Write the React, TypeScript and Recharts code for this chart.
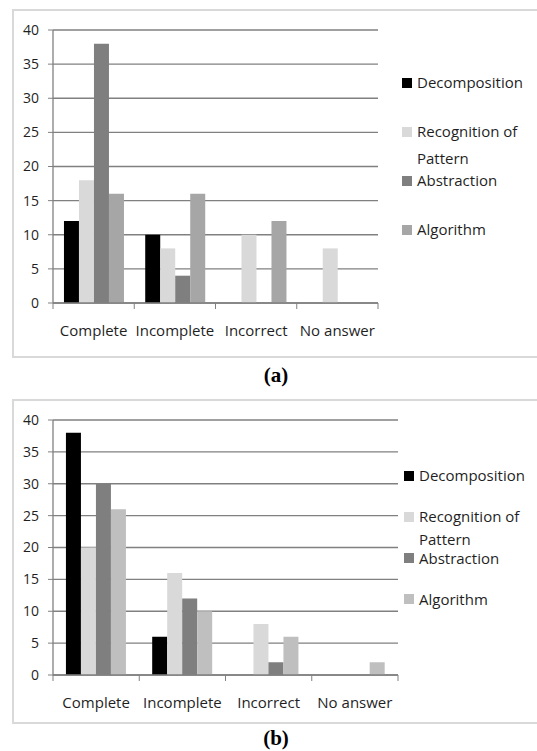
import React from "react";
import { BarChart, Bar, XAxis, YAxis, CartesianGrid, Legend } from "recharts";

const categories = ["Complete", "Incomplete", "Incorrect", "No answer"];
const seriesNames = ["Decomposition", "Recognition of Pattern", "Abstraction", "Algorithm"];
const yTicks = [0, 5, 10, 15, 20, 25, 30, 35, 40];

// Chart (a)
const aDecomposition = [12, 10, 0, 0];
const aRecognition = [18, 8, 10, 8];
const aAbstraction = [38, 4, 0, 0];
const aAlgorithm = [16, 16, 12, 0];

// Chart (b)
const bDecomposition = [38, 6, 0, 0];
const bRecognition = [20, 16, 8, 0];
const bAbstraction = [30, 12, 2, 0];
const bAlgorithm = [26, 10, 6, 2];

const colorsA = ["#000000", "#d9d9d9", "#7f7f7f", "#a6a6a6"];
const colorsB = ["#000000", "#d9d9d9", "#7f7f7f", "#bfbfbf"];

const buildRows = (s: number[][]) =>
  categories.map((c, i) => ({ name: c, s0: s[0][i], s1: s[1][i], s2: s[2][i], s3: s[3][i] }));

const dataA = buildRows([aDecomposition, aRecognition, aAbstraction, aAlgorithm]);
const dataB = buildRows([bDecomposition, bRecognition, bAbstraction, bAlgorithm]);

const FONT = "'Open Sans', sans-serif";
const TEXT = "#1f1f1f";
const AXIS = "#808080";

const XTick = (props: any) => {
  const { x, y, payload, index, visibleTicksCount } = props;
  const off = payload && typeof payload.offset === "number" ? payload.offset : 40;
  const last = index === (visibleTicksCount ?? categories.length) - 1;
  return (
    <g>
      <line x1={x - off} x2={x - off} y1={y} y2={y + 6} stroke={AXIS} />
      {last && <line x1={x + off} x2={x + off} y1={y} y2={y + 6} stroke={AXIS} />}
      <text
        x={x}
        y={y + 27}
        textAnchor="middle"
        dominantBaseline="central"
        fontFamily={FONT}
        fontSize={15}
        fill={TEXT}
      >
        {payload.value}
      </text>
    </g>
  );
};

const makeLegend = (colors: string[], step: number, lineH: number) => () => (
  <div style={{ position: "relative", width: 140, height: step * 4, fontFamily: FONT, fontSize: 15, color: TEXT }}>
    {seriesNames.map((n, i) => (
      <div key={n} style={{ position: "absolute", left: 0, top: i * step, display: "flex", alignItems: "flex-start" }}>
        <div style={{ width: 10, height: 10, background: colors[i], marginTop: (lineH - 10) / 2, marginRight: 5 }} />
        <div style={{ width: 116, lineHeight: `${lineH}px` }}>{n}</div>
      </div>
    ))}
  </div>
);

type PanelProps = {
  data: any[];
  colors: string[];
  height: number;
  right: number;
  xHeight: number;
  gap: string;
  legendTop: number;
  legendLeft: number;
  step: number;
  lineH: number;
};

const Panel = ({ data, colors, height, right, xHeight, gap, legendTop, legendLeft, step, lineH }: PanelProps) => (
  <BarChart
    width={524}
    height={height}
    data={data}
    margin={{ top: 20, right, bottom: 0, left: 0 }}
    barCategoryGap={gap}
    barGap={0}
  >
    <CartesianGrid vertical={false} stroke={AXIS} strokeWidth={1.3} />
    <XAxis
      dataKey="name"
      height={xHeight}
      interval={0}
      tickSize={0}
      tickMargin={0}
      tickLine={false}
      axisLine={{ stroke: AXIS, strokeWidth: 1.3 }}
      tick={<XTick />}
    />
    <YAxis
      width={40}
      domain={[0, 40]}
      ticks={yTicks}
      interval={0}
      tickSize={5}
      tickMargin={9}
      axisLine={{ stroke: AXIS, strokeWidth: 1.3 }}
      tickLine={{ stroke: AXIS }}
      tick={{ fill: TEXT, fontSize: 14, fontFamily: FONT }}
    />
    <Legend
      layout="vertical"
      align="center"
      verticalAlign="middle"
      content={makeLegend(colors, step, lineH)}
      wrapperStyle={{ left: legendLeft, top: legendTop, width: 140 }}
    />
    {["s0", "s1", "s2", "s3"].map((k, i) => (
      <Bar key={k} dataKey={k} name={seriesNames[i]} fill={colors[i]} isAnimationActive={false} />
    ))}
  </BarChart>
);

const boxStyle = (top: number, height: number): React.CSSProperties => ({
  position: "absolute",
  left: 12,
  top,
  width: 560,
  height,
  boxSizing: "border-box",
  border: "2px solid #d9d9d9",
});

const captionStyle = (top: number): React.CSSProperties => ({
  position: "absolute",
  left: 226,
  width: 100,
  top,
  textAlign: "center",
  fontFamily: "'Liberation Serif', 'Times New Roman', serif",
  fontWeight: "bold",
  fontSize: 21,
  lineHeight: "24px",
  color: "#000",
});

export default function App() {
  return (
    <div
      style={{
        position: "absolute",
        left: 0,
        top: 0,
        width: 537,
        height: 751,
        overflow: "hidden",
        background: "#fff",
      }}
    >
      <div style={boxStyle(9, 349)} />
      <div style={{ position: "absolute", left: 13, top: 10 }}>
        <Panel
          data={dataA}
          colors={colorsA}
          height={347}
          right={159}
          xHeight={54}
          gap="13.5%"
          legendLeft={389}
          legendTop={59}
          step={49}
          lineH={27}
        />
      </div>
      <div style={captionStyle(363)}>(a)</div>

      <div style={boxStyle(399, 325)} />
      <div style={{ position: "absolute", left: 13, top: 400 }}>
        <Panel
          data={dataB}
          colors={colorsB}
          height={323}
          right={139}
          xHeight={48}
          gap="15%"
          legendLeft={391}
          legendTop={64}
          step={41.3}
          lineH={23}
        />
      </div>
      <div style={captionStyle(726)}>(b)</div>
    </div>
  );
}
